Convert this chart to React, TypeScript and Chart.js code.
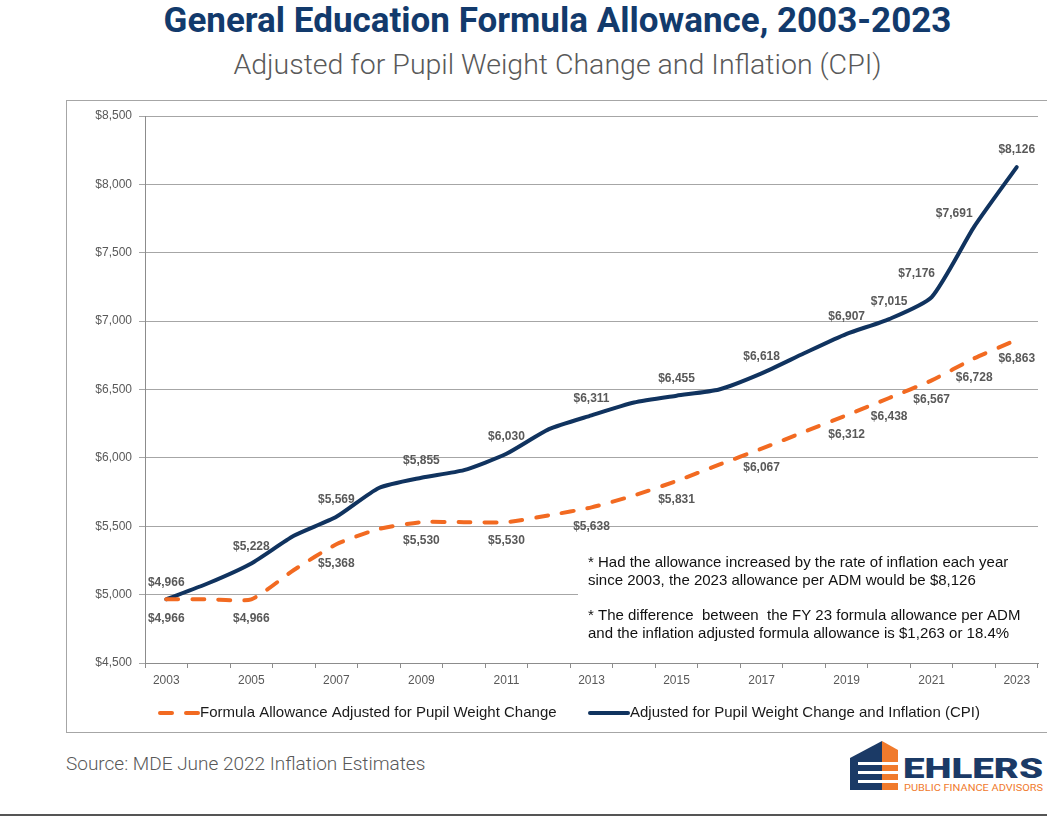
import React, { useEffect, useRef } from "react";
import { Chart, registerables } from "chart.js";

Chart.register(...registerables);

// ---------- Data ----------
const years = [
  "2003", "2004", "2005", "2006", "2007", "2008", "2009", "2010", "2011", "2012",
  "2013", "2014", "2015", "2016", "2017", "2018", "2019", "2020", "2021", "2022", "2023",
];

const formulaAllowance = [
  4966, 4966, 4966, 5180, 5368, 5480, 5530, 5530, 5530, 5580,
  5638, 5725, 5831, 5950, 6067, 6190, 6312, 6438, 6567, 6728, 6863,
];

const inflationAdjusted = [
  4966, 5085, 5228, 5430, 5569, 5780, 5855, 5910, 6030, 6210,
  6311, 6405, 6455, 6500, 6618, 6765, 6907, 7015, 7176, 7691, 8126,
];

const labeledYears = [
  "2003", "2005", "2007", "2009", "2011", "2013", "2015", "2017", "2019",
  "2020", "2021", "2022", "2023",
];

const yTicks = [4500, 5000, 5500, 6000, 6500, 7000, 7500, 8000, 8500];

const seriesNames = [
  "Formula Allowance Adjusted for Pupil Weight Change",
  "Adjusted for Pupil Weight Change and Inflation (CPI)",
];

const noteLines = [
  "* Had the allowance increased by the rate of inflation each year",
  "since 2003, the 2023 allowance per ADM would be $8,126",
  "* The difference  between  the FY 23 formula allowance per ADM",
  "and the inflation adjusted formula allowance is $1,263 or 18.4%",
];

// ---------- Styles ----------
const ORANGE = "#f26a21";
const NAVY = "#10335f";
const TITLE_NAVY = "#123a6c";
const GRAY_TEXT = "#595959";
const FONT = "'Liberation Sans', Arial, sans-serif";

const labelOffsets: Record<string, { dx: number; dy: number }> = {
  "2021": { dx: -15, dy: -23 },
  "2022": { dx: -20, dy: -13 },
};

const fmt = (v: number) => "$" + v.toLocaleString("en-US");

const overlayPlugin = {
  id: "overlay",
  beforeDatasetsDraw(chart: any) {
    const ctx = chart.ctx;
    ctx.save();
    ctx.fillStyle = "#ffffff";
    ctx.fillRect(512, 447, 460, 102);
    ctx.restore();
  },
  afterDatasetsDraw(chart: any) {
    const ctx = chart.ctx;
    ctx.save();
    // data labels
    ctx.font = `bold 12px ${FONT}`;
    ctx.fillStyle = GRAY_TEXT;
    ctx.textAlign = "center";
    ctx.textBaseline = "middle";
    chart.data.datasets.forEach((ds: any, di: number) => {
      const meta = chart.getDatasetMeta(di);
      years.forEach((yr, i) => {
        if (!labeledYears.includes(yr)) return;
        const el = meta.data[i];
        let dx = 0;
        let dy = di === 0 ? 19 : -17;
        if (di === 1 && labelOffsets[yr]) {
          dx = labelOffsets[yr].dx;
          dy = labelOffsets[yr].dy;
        }
        ctx.fillText(fmt(ds.data[i]), el.x + dx, el.y + dy);
      });
    });

    // notes
    ctx.font = `15px ${FONT}`;
    ctx.fillStyle = "#111111";
    ctx.textAlign = "left";
    const noteY = [463, 481, 516, 534];
    noteLines.forEach((t, i) => ctx.fillText(t, 522, noteY[i]));

    // legend
    const legendY = 613;
    const items = [
      { x: 94, color: ORANGE, dash: [12, 14] },
      { x: 524, color: NAVY, dash: [] },
    ];
    items.forEach((it, i) => {
      ctx.beginPath();
      ctx.setLineDash(it.dash);
      ctx.lineCap = "round";
      ctx.lineWidth = 4;
      ctx.strokeStyle = it.color;
      ctx.moveTo(it.x, legendY);
      ctx.lineTo(it.x + 38, legendY);
      ctx.stroke();
      ctx.setLineDash([]);
      ctx.fillStyle = "#1a1a1a";
      ctx.font = `15px ${FONT}`;
      ctx.fillText(seriesNames[i], it.x + 40, legendY);
    });
    ctx.restore();
  },
};

export default function App() {
  const canvasRef = useRef<HTMLCanvasElement | null>(null);

  useEffect(() => {
    document.body.style.margin = "0";
    const canvas = canvasRef.current;
    if (!canvas) return;
    Chart.defaults.font.family = FONT;
    const chart = new Chart(canvas, {
      type: "line",
      data: {
        labels: years,
        datasets: [
          {
            label: seriesNames[0],
            data: formulaAllowance,
            borderColor: ORANGE,
            backgroundColor: ORANGE,
            borderWidth: 4,
            borderDash: [12, 14],
            borderCapStyle: "round",
            borderJoinStyle: "round",
            pointRadius: 0,
            tension: 0.2,
            fill: false,
          },
          {
            label: seriesNames[1],
            data: inflationAdjusted,
            borderColor: NAVY,
            backgroundColor: NAVY,
            borderWidth: 4,
            borderCapStyle: "round",
            borderJoinStyle: "round",
            pointRadius: 0,
            tension: 0.2,
            fill: false,
          },
        ],
      },
      options: {
        responsive: true,
        maintainAspectRatio: false,
        animation: false,
        layout: { padding: { top: 16, right: 9, bottom: 40, left: 0 } },
        plugins: {
          legend: { display: false },
          title: { display: false },
          tooltip: { enabled: false },
        },
        scales: {
          x: {
            type: "category",
            offset: true,
            grid: {
              display: true,
              drawOnChartArea: false,
              drawTicks: true,
              tickLength: 5,
              offset: true,
              color: "#8c8c8c",
            },
            border: { display: true, color: "#8c8c8c", width: 1 },
            ticks: {
              autoSkip: false,
              maxRotation: 0,
              padding: 5,
              color: GRAY_TEXT,
              font: { size: 12 },
              callback: (_v: any, i: number) => (i % 2 === 0 ? years[i] : ""),
            },
            afterFit: (s: any) => {
              s.height = 30;
            },
          },
          y: {
            min: yTicks[0],
            max: yTicks[yTicks.length - 1],
            afterBuildTicks: (s: any) => {
              s.ticks = yTicks.map((v) => ({ value: v }));
            },
            ticks: {
              padding: 7,
              color: GRAY_TEXT,
              font: { size: 12 },
              callback: (v: any) => fmt(Number(v)),
            },
            grid: { color: "#a6a6a6", tickLength: 6, drawTicks: true, lineWidth: 1 },
            border: { color: "#8c8c8c" },
            afterFit: (s: any) => {
              s.width = 79;
            },
          },
        },
      },
      plugins: [overlayPlugin],
    } as any);
    return () => chart.destroy();
  }, []);

  return (
    <div
      style={{
        position: "relative",
        width: 1047,
        height: 818,
        overflow: "hidden",
        background: "#ffffff",
      }}
    >
      <div
        style={{
          position: "absolute",
          left: 0,
          top: 3,
          width: 1115,
          textAlign: "center",
          fontFamily: "Roboto, 'Open Sans', sans-serif",
          fontWeight: 700,
          fontSize: 35,
          lineHeight: "35px",
          color: TITLE_NAVY,
          whiteSpace: "nowrap",
        }}
      >
        General Education Formula Allowance, 2003-2023
      </div>
      <div
        style={{
          position: "absolute",
          left: 0,
          top: 51,
          width: 1115,
          textAlign: "center",
          fontFamily: "Roboto, 'Open Sans', sans-serif",
          fontWeight: 300,
          fontSize: 28.5,
          lineHeight: "28.5px",
          color: GRAY_TEXT,
          whiteSpace: "nowrap",
        }}
      >
        Adjusted for Pupil Weight Change and Inflation (CPI)
      </div>
      <div
        style={{
          position: "absolute",
          left: 66,
          top: 100,
          width: 1000,
          height: 633,
          border: "1px solid #a6a6a6",
          boxSizing: "border-box",
        }}
      />
      <div style={{ position: "absolute", left: 66, top: 100, width: 981, height: 633 }}>
        <canvas ref={canvasRef} />
      </div>
      <div
        style={{
          position: "absolute",
          left: 66,
          top: 754,
          fontFamily: "Roboto, 'Open Sans', sans-serif",
          fontWeight: 300,
          fontSize: 19,
          lineHeight: "19px",
          color: GRAY_TEXT,
          whiteSpace: "nowrap",
        }}
      >
        Source: MDE June 2022 Inflation Estimates
      </div>
      <svg
        style={{ position: "absolute", left: 845, top: 738 }}
        width={202}
        height={58}
        viewBox="0 0 202 58"
      >
        <polygon points="5,20 37,3 37,52 5,52" fill="#1b3a66" />
        <polygon points="37,3 53,12 53,52 37,52" fill="#f07a2c" />
        <rect x="13" y="24" width="40" height="3" fill="#ffffff" />
        <rect x="13" y="33" width="40" height="3" fill="#ffffff" />
        <rect x="13" y="42" width="40" height="3" fill="#ffffff" />
        <text
          x="58"
          y="40"
          fontFamily="Roboto, 'Open Sans', sans-serif"
          fontWeight={900}
          fontSize={28}
          fill="#1b3a66"
          textLength={140}
          lengthAdjust="spacingAndGlyphs"
        >
          EHLERS
        </text>
        <text
          x="59"
          y="53"
          fontFamily="Roboto, 'Open Sans', sans-serif"
          fontWeight={400}
          fontSize={9.5}
          fill="#f07a2c"
          textLength={139}
          lengthAdjust="spacingAndGlyphs"
        >
          PUBLIC FINANCE ADVISORS
        </text>
      </svg>
      <div
        style={{
          position: "absolute",
          left: 0,
          top: 814,
          width: 1047,
          height: 2,
          background: "#555555",
        }}
      />
    </div>
  );
}
